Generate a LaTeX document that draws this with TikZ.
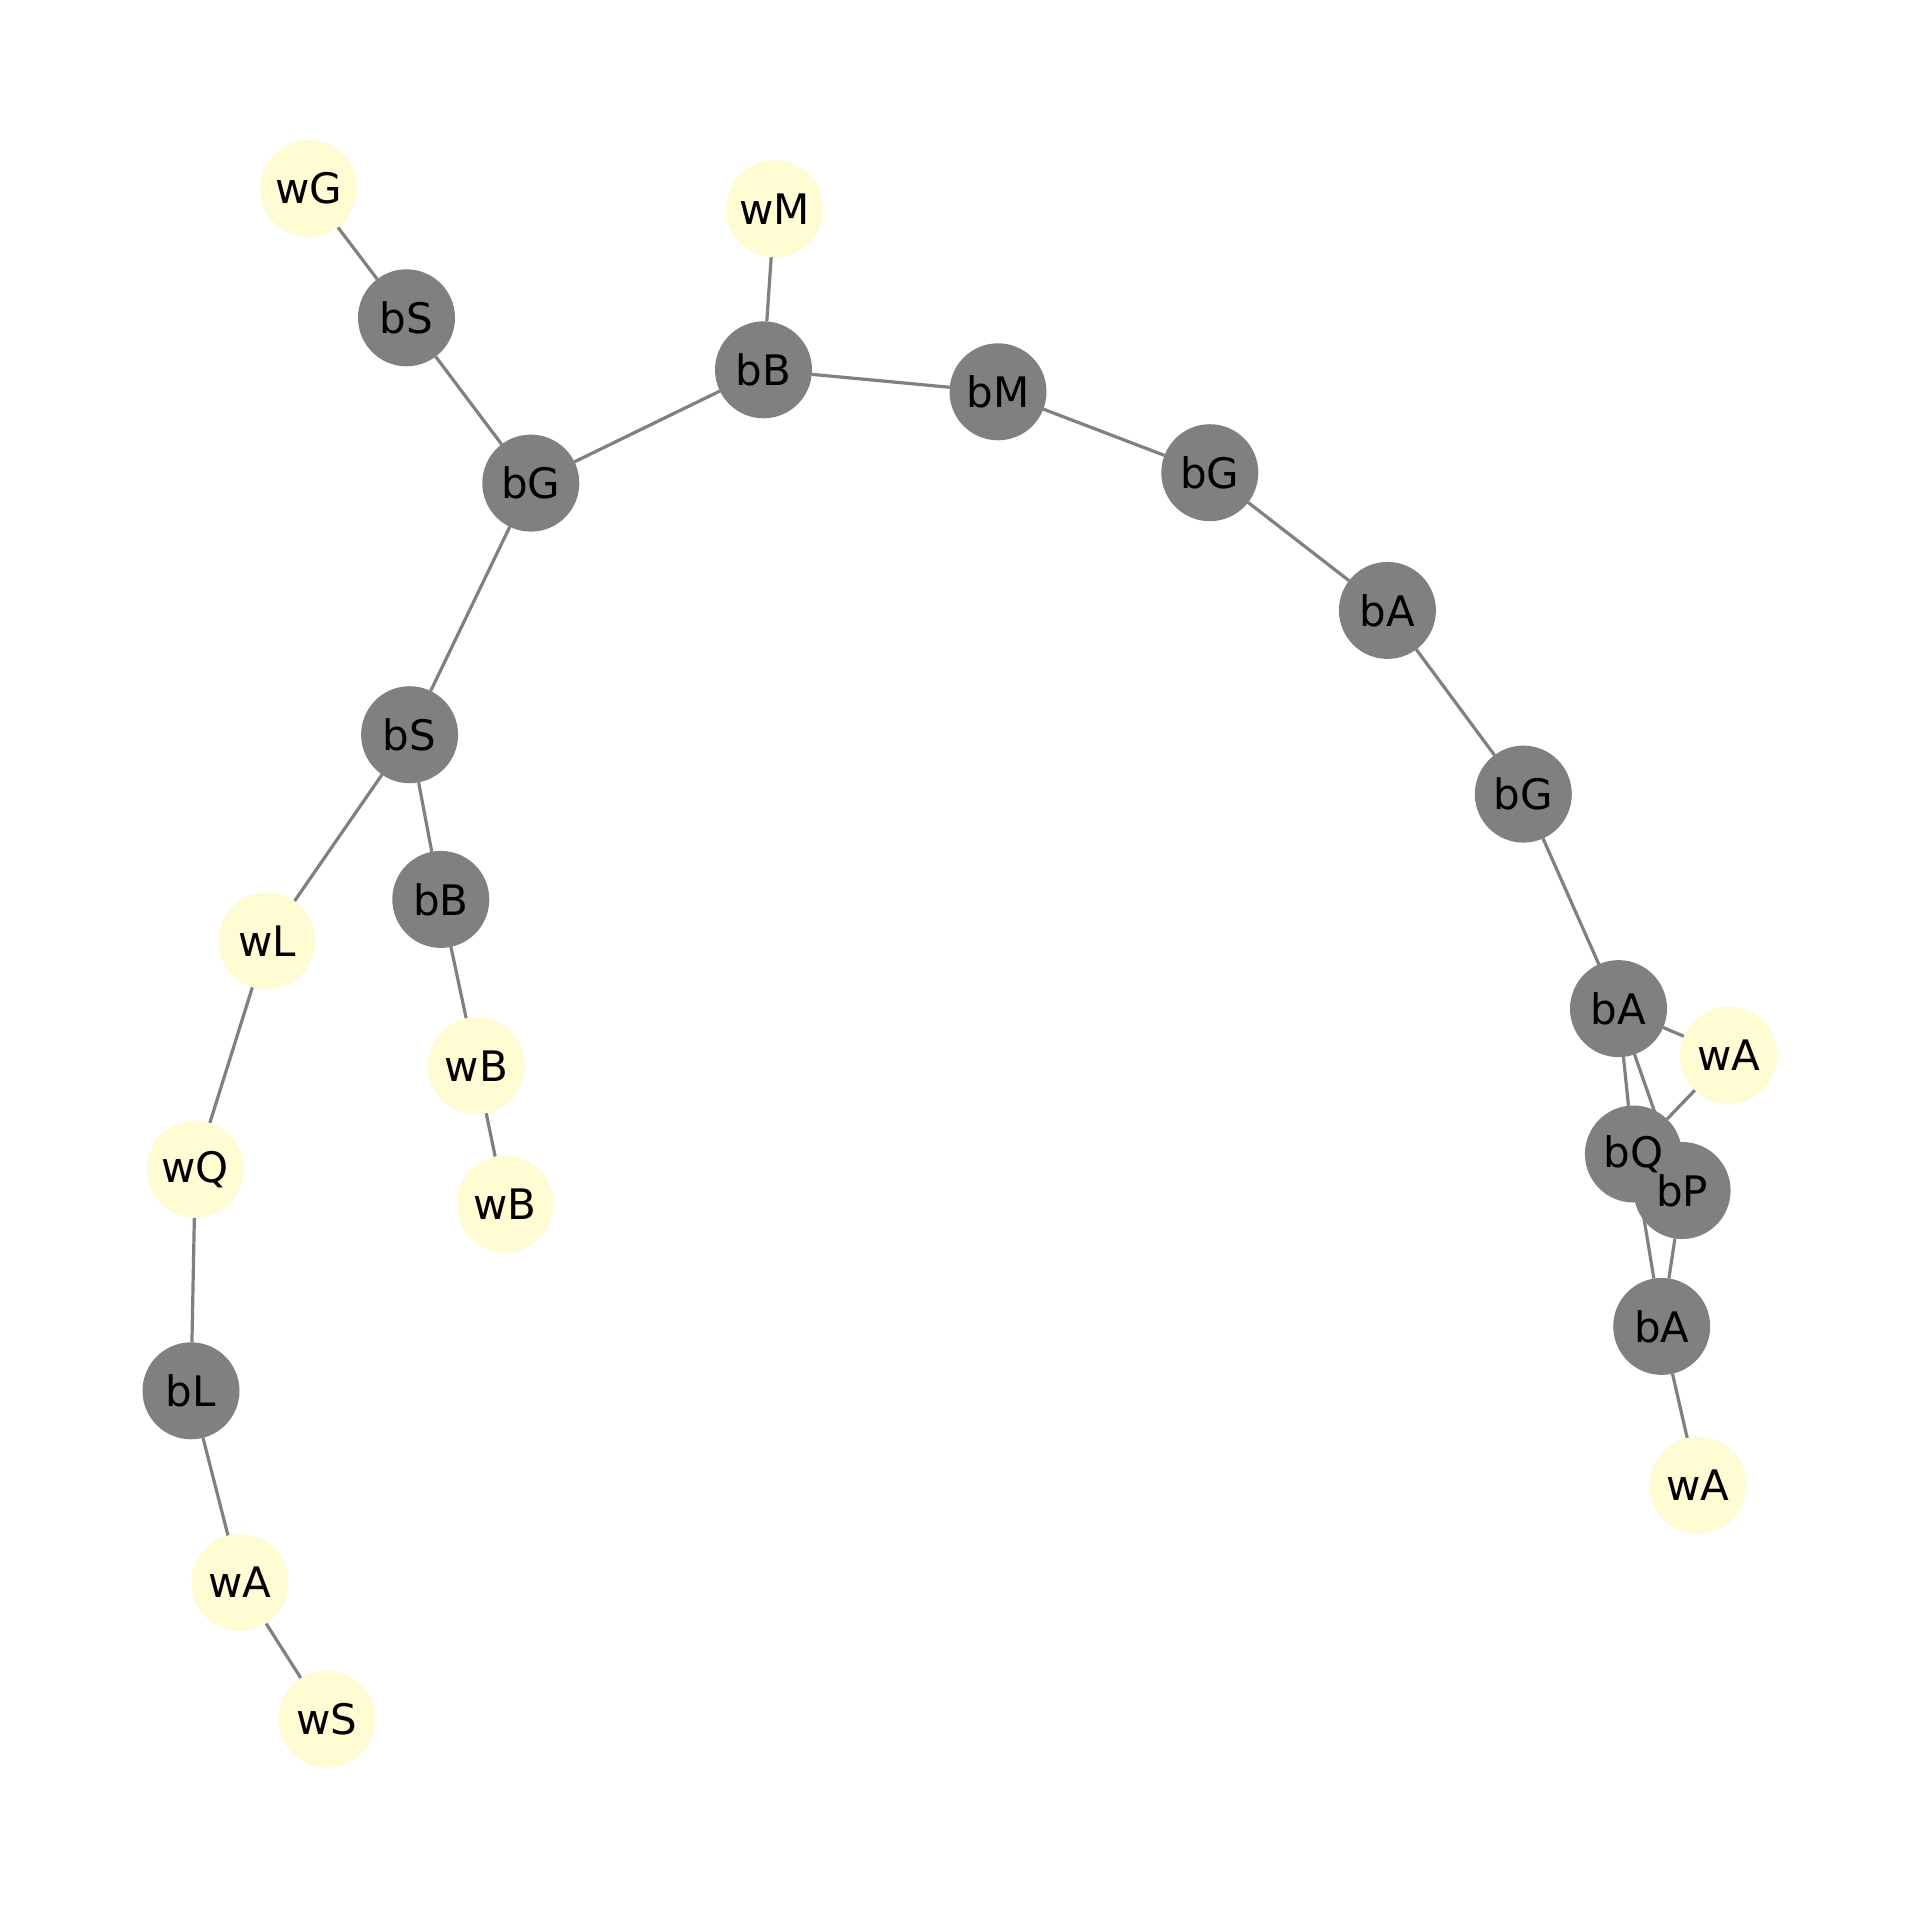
\documentclass[tikz,border=0pt]{standalone}
\usepackage{fontspec}
\setmainfont{DejaVu Sans}
\usetikzlibrary{backgrounds}
\definecolor{bnode}{HTML}{808080}
\definecolor{wnode}{HTML}{FFFBD2}
\definecolor{edgec}{HTML}{808080}
\tikzset{
  vtx/.style={circle, minimum size=97pt, inner sep=0pt, outer sep=0pt, draw=none},
  bvtx/.style={vtx, fill=bnode},
  wvtx/.style={vtx, fill=wnode},
  lbl/.style={inner sep=0pt, font=\fontsize{42}{50}\selectfont, text=black},
  edge/.style={draw=edgec, line width=3.2pt}
}
\begin{document}
\begin{tikzpicture}[x=1pt,y=-1pt]
\useasboundingbox (0,0) rectangle (1919,1907);
% vertices
\node[wvtx] (wG) at (308.6,188.6) {};
\node[wvtx] (wM) at (774.5,208.8) {};
\node[bvtx] (bS1) at (406.5,317.8) {};
\node[bvtx] (bB1) at (763.5,369.8) {};
\node[bvtx] (bG1) at (530.8,483.1) {};
\node[bvtx] (bM) at (998.0,391.8) {};
\node[bvtx] (bG2) at (1209.8,472.7) {};
\node[bvtx] (bA1) at (1387.4,610.4) {};
\node[bvtx] (bG3) at (1523.3,794.1) {};
\node[bvtx] (bS2) at (409.6,734.7) {};
\node[bvtx] (bB2) at (440.8,899.4) {};
\node[wvtx] (wL) at (266.9,941.0) {};
\node[wvtx] (wB1) at (476.3,1065.7) {};
\node[wvtx] (wB2) at (505.1,1204.1) {};
\node[wvtx] (wQ) at (195.3,1169.2) {};
\node[bvtx] (bL) at (191.0,1390.8) {};
\node[wvtx] (wA1) at (240.0,1582.5) {};
\node[wvtx] (wS) at (326.9,1719.0) {};
\node[bvtx] (bA2) at (1618.5,1008.6) {};
\node[wvtx] (wA2) at (1728.6,1055.2) {};
\node[bvtx] (bQ) at (1633.4,1154.0) {};
\node[bvtx] (bP) at (1682.1,1190.5) {};
\node[bvtx] (bA3) at (1661.7,1326.4) {};
\node[wvtx] (wA3) at (1698.0,1485.3) {};
% edges
\begin{scope}[on background layer]
\draw[edge] (wG) -- (bS1);
\draw[edge] (bS1) -- (bG1);
\draw[edge] (bG1) -- (bB1);
\draw[edge] (wM) -- (bB1);
\draw[edge] (bB1) -- (bM);
\draw[edge] (bM) -- (bG2);
\draw[edge] (bG2) -- (bA1);
\draw[edge] (bA1) -- (bG3);
\draw[edge] (bG3) -- (bA2);
\draw[edge] (bA2) -- (wA2);
\draw[edge] (bA2) -- (bQ);
\draw[edge] (bA2) -- (bP);
\draw[edge] (wA2) -- (bQ);
\draw[edge] (bQ) -- (bA3);
\draw[edge] (bP) -- (bA3);
\draw[edge] (bA3) -- (wA3);
\draw[edge] (bG1) -- (bS2);
\draw[edge] (bS2) -- (wL);
\draw[edge] (bS2) -- (bB2);
\draw[edge] (bB2) -- (wB1);
\draw[edge] (wB1) -- (wB2);
\draw[edge] (wL) -- (wQ);
\draw[edge] (wQ) -- (bL);
\draw[edge] (bL) -- (wA1);
\draw[edge] (wA1) -- (wS);
\end{scope}
% labels
\node[lbl] (wG-l) at (wG) {wG};
\node[lbl] (wM-l) at (wM) {wM};
\node[lbl] (bS1-l) at (bS1) {bS};
\node[lbl] (bB1-l) at (bB1) {bB};
\node[lbl] (bG1-l) at (bG1) {bG};
\node[lbl] (bM-l) at (bM) {bM};
\node[lbl] (bG2-l) at (bG2) {bG};
\node[lbl] (bA1-l) at (bA1) {bA};
\node[lbl] (bG3-l) at (bG3) {bG};
\node[lbl] (bS2-l) at (bS2) {bS};
\node[lbl] (bB2-l) at (bB2) {bB};
\node[lbl] (wL-l) at (wL) {wL};
\node[lbl] (wB1-l) at (wB1) {wB};
\node[lbl] (wB2-l) at (wB2) {wB};
\node[lbl] (wQ-l) at (wQ) {wQ};
\node[lbl] (bL-l) at (bL) {bL};
\node[lbl] (wA1-l) at (wA1) {wA};
\node[lbl] (wS-l) at (wS) {wS};
\node[lbl] (bA2-l) at (bA2) {bA};
\node[lbl] (wA2-l) at (wA2) {wA};
\node[lbl] (bQ-l) at (bQ) {bQ};
\node[lbl] (bP-l) at (bP) {bP};
\node[lbl] (bA3-l) at (bA3) {bA};
\node[lbl] (wA3-l) at (wA3) {wA};
\end{tikzpicture}
\end{document}
